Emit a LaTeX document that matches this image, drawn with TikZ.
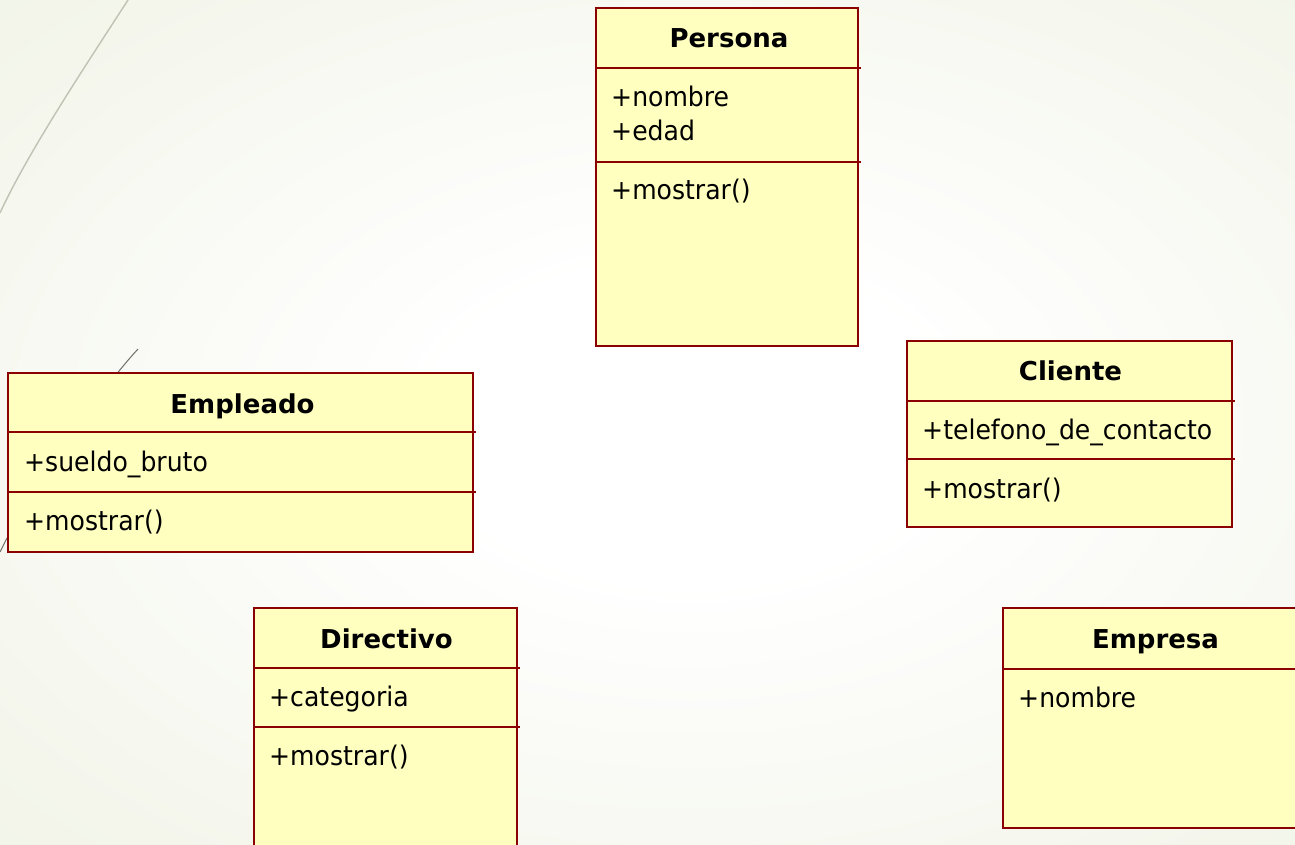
\documentclass[tikz,border=0pt]{standalone}
\usepackage{fontspec}
\setmainfont{DejaVu Sans}
\newfontfamily\memberfont{DejaVu Sans}[FakeStretch=0.93]
\usetikzlibrary{calc}

\definecolor{umlborder}{RGB}{139,0,0}
\definecolor{umlfill}{RGB}{255,255,192}
\definecolor{bgmid}{RGB}{244,246,236}
\definecolor{bgout}{RGB}{229,236,211}
\definecolor{wispA}{RGB}{192,194,180}
\definecolor{wispB}{RGB}{112,112,104}

% soft slide background: white centre fading to pale green
\pgfdeclareradialshading{slidebg}{\pgfpoint{0bp}{0bp}}{color(0bp)=(white); color(9bp)=(white); color(30bp)=(bgmid); color(62bp)=(bgout); color(75bp)=(bgout)}

\tikzset{
  classbox/.style={draw=umlborder, fill=umlfill, line width=2.8pt,
                   anchor=north west, inner sep=0pt, outer sep=0pt},
  divider/.style={draw=umlborder, line width=2.8pt},
  classname/.style={font=\bfseries\fontsize{26}{30}\selectfont, anchor=base, inner sep=0pt},
  member/.style={font=\memberfont\fontsize{27}{32}\selectfont, anchor=base west, inner sep=0pt},
}

\begin{document}
\begin{tikzpicture}[x=1pt, y=-1pt]
  \useasboundingbox (0,0) rectangle (1295,845);
  \clip (0,0) rectangle (1295,845);
  \fill[shading=slidebg] (-20,-20) rectangle (1400,865);

  % decorative theme strokes on the left
  \draw[wispA, line width=1.4pt] (128,0) .. controls (88,62) and (28,152) .. (0,213);
  \draw[wispB, line width=1pt] (138,349) .. controls (100,390) and (30,490) .. (0,552);

  % Persona
  \node[classbox, minimum width=262pt, minimum height=338pt] (persona) at (596,8) {};
  \draw[divider] ($(persona.north west)+(0,60)$) -- ++(265,0);
  \draw[divider] ($(persona.north west)+(0,154)$) -- ++(265,0);
  \node[classname] (personaname) at ($(persona.north)+(2,40)$) {Persona};
  \node[member] (personaA) at (611,107) {+nombre};
  \node[member] (personaB) at (611,141) {+edad};
  \node[member] (personaC) at (611,200) {+mostrar()};

  % Empleado
  \node[classbox, minimum width=465pt, minimum height=179pt] (empleado) at (8,373) {};
  \draw[divider] ($(empleado.north west)+(0,59)$) -- ++(468,0);
  \draw[divider] ($(empleado.north west)+(0,119)$) -- ++(468,0);
  \node[classname] (empleadoname) at ($(empleado.north)+(2,40)$) {Empleado};
  \node[member] (empleadoA) at (24,471) {+sueldo\_bruto};
  \node[member] (empleadoB) at (24,530) {+mostrar()};

  % Cliente
  \node[classbox, minimum width=325pt, minimum height=186pt] (cliente) at (907,341) {};
  \draw[divider] ($(cliente.north west)+(0,60)$) -- ++(328,0);
  \draw[divider] ($(cliente.north west)+(0,118)$) -- ++(328,0);
  \node[classname] (clientename) at ($(cliente.north)+(1,39)$) {Cliente};
  \node[member] (clienteA) at (922,439) {+telefono\_de\_contacto};
  \node[member] (clienteB) at (922,498) {+mostrar()};

  % Directivo
  \node[classbox, minimum width=263pt, minimum height=260pt] (directivo) at (254,608) {};
  \draw[divider] ($(directivo.north west)+(0,60)$) -- ++(266,0);
  \draw[divider] ($(directivo.north west)+(0,119)$) -- ++(266,0);
  \node[classname] (directivoname) at ($(directivo.north)+(1,40)$) {Directivo};
  \node[member] (directivoA) at (269,706) {+categoria};
  \node[member] (directivoB) at (269,765) {+mostrar()};

  % Empresa
  \node[classbox, minimum width=305pt, minimum height=220pt] (empresa) at (1003,608) {};
  \draw[divider] ($(empresa.north west)+(0,61)$) -- ++(308,0);
  \node[classname] (empresaname) at ($(empresa.north)+(0,40)$) {Empresa};
  \node[member] (empresaA) at (1018,707) {+nombre};
\end{tikzpicture}
\end{document}
